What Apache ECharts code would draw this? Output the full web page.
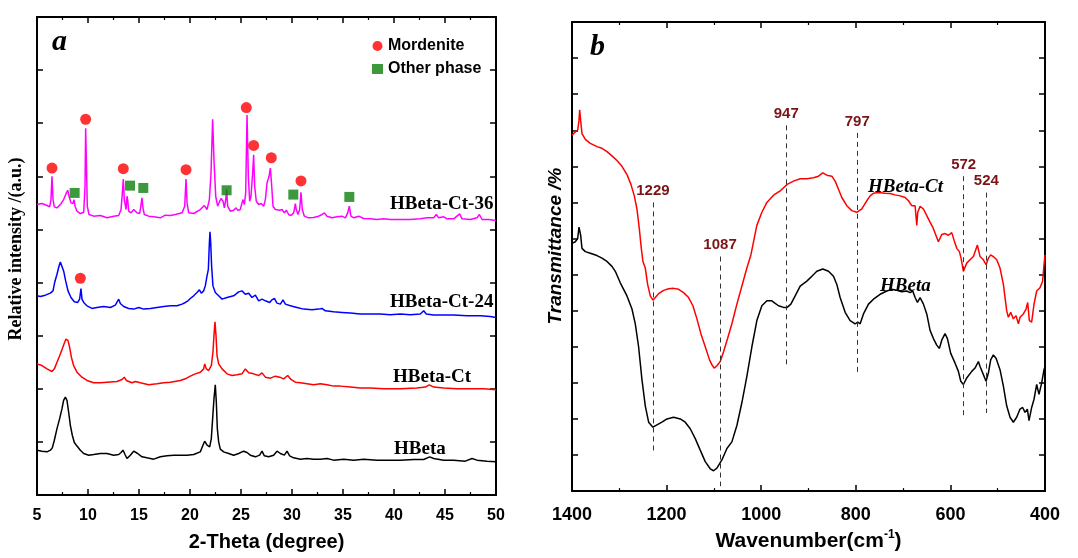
<!DOCTYPE html>
<html>
<head>
<meta charset="utf-8">
<script src="https://cdn.jsdelivr.net/npm/echarts@6/dist/echarts.min.js"></script>
<style>
  html, body { margin: 0; padding: 0; background: #fff; }
  #chart { width: 1078px; height: 558px; }
</style>
</head>
<body>
<div id="chart"></div>
<script>
// ---------- (a) XRD patterns: [2-theta (deg), intensity (a.u., stacked)] ----------
const xrdCt36 = [[5.00,875],[5.49,878],[5.98,872],[6.24,868],[6.37,890],[6.47,960],[6.57,890],[6.70,868],[6.96,865],[7.29,875],[7.61,890],[7.88,910],[8.01,918],[8.14,900],[8.33,880],[8.53,878],[8.63,890],[8.73,870],[8.92,855],[9.25,848],[9.58,852],[9.71,930],[9.77,1105],[9.84,1010],[9.93,870],[10.10,845],[10.56,840],[11.21,842],[11.86,835],[12.52,840],[13.01,842],[13.24,860],[13.37,910],[13.46,952],[13.56,890],[13.73,860],[13.82,900],[13.89,890],[13.99,855],[14.22,850],[14.48,860],[14.61,865],[14.80,850],[15.07,848],[15.20,875],[15.29,895],[15.39,865],[15.52,845],[15.95,840],[16.44,838],[17.09,835],[17.58,843],[18.07,842],[18.56,845],[19.22,850],[19.48,870],[19.61,952],[19.71,880],[19.87,850],[20.36,848],[21.01,860],[21.41,872],[21.67,860],[21.90,890],[22.06,970],[22.22,1132],[22.35,1010],[22.52,900],[22.71,870],[22.91,885],[23.04,893],[23.24,885],[23.37,865],[23.50,890],[23.59,920],[23.69,870],[23.95,855],[24.28,858],[24.51,865],[24.67,858],[24.93,860],[25.10,880],[25.20,890],[25.33,875],[25.46,910],[25.59,1145],[25.72,960],[25.85,885],[25.98,900],[26.14,970],[26.24,1025],[26.34,930],[26.50,885],[26.73,875],[26.99,878],[27.22,870],[27.39,890],[27.55,940],[27.65,950],[27.75,960],[27.88,985],[28.01,930],[28.14,870],[28.37,860],[28.53,865],[28.79,858],[29.02,860],[29.25,850],[29.44,858],[29.67,845],[29.90,842],[30.16,850],[30.26,865],[30.33,878],[30.42,860],[30.59,845],[30.75,860],[30.88,912],[31.01,860],[31.21,840],[31.63,835],[32.12,836],[32.61,840],[32.94,845],[33.17,850],[33.43,840],[33.92,835],[34.41,838],[34.90,840],[35.07,845],[35.23,835],[35.46,850],[35.62,870],[35.78,840],[36.05,835],[36.54,840],[37.03,833],[37.68,832],[38.33,830],[38.99,832],[39.64,830],[40.29,830],[40.46,835],[40.62,830],[41.60,830],[42.58,832],[43.24,835],[43.89,835],[44.15,845],[44.38,835],[44.87,838],[45.20,832],[45.85,832],[46.44,847],[46.67,832],[47.48,830],[48.14,835],[48.37,845],[48.63,830],[49.28,830],[50.00,827]];

const xrdCt24 = [[5.00,600],[5.33,598],[5.82,602],[6.31,608],[6.57,615],[6.73,640],[6.96,665],[7.16,690],[7.29,702],[7.45,698],[7.61,675],[7.81,645],[8.04,615],[8.33,595],[8.66,582],[8.99,580],[9.18,590],[9.31,622],[9.41,590],[9.58,580],[9.90,570],[10.39,562],[10.88,565],[11.54,568],[12.19,565],[12.68,572],[13.01,590],[13.17,577],[13.50,568],[13.99,562],[14.48,560],[14.97,565],[15.46,560],[16.11,562],[16.76,565],[17.42,568],[18.07,570],[18.73,570],[19.22,575],[19.54,580],[19.80,585],[20.03,592],[20.36,600],[20.69,610],[20.92,618],[21.11,608],[21.34,615],[21.50,630],[21.67,660],[21.80,680],[21.90,760],[21.96,793],[22.03,760],[22.12,690],[22.25,630],[22.48,610],[22.81,600],[23.14,590],[23.63,595],[24.28,600],[24.77,612],[25.10,615],[25.42,605],[25.75,608],[26.08,595],[26.41,602],[26.73,585],[27.06,590],[27.39,585],[27.81,580],[28.04,588],[28.27,592],[28.53,578],[28.86,575],[29.12,588],[29.35,575],[29.84,570],[30.49,565],[31.14,560],[31.96,558],[32.61,560],[32.94,562],[33.27,555],[34.08,552],[34.90,550],[35.72,548],[36.70,545],[37.68,545],[38.66,545],[39.64,543],[40.62,545],[41.60,543],[42.58,545],[42.91,555],[43.17,545],[43.89,542],[44.87,542],[45.85,542],[47.16,540],[48.46,540],[49.44,538],[50.00,535]];

const xrdCt = [[5.00,395],[5.49,390],[5.98,380],[6.47,372],[6.70,380],[6.96,400],[7.29,425],[7.61,452],[7.84,470],[8.04,465],[8.20,445],[8.37,415],[8.59,390],[8.92,370],[9.41,355],[9.90,345],[10.56,338],[11.21,338],[11.86,340],[12.84,342],[13.33,348],[13.56,355],[13.76,345],[14.31,338],[14.64,342],[15.13,338],[15.95,332],[16.76,335],[17.42,338],[18.07,340],[19.05,345],[19.54,350],[20.03,358],[20.52,365],[21.01,370],[21.34,380],[21.44,395],[21.60,380],[21.83,375],[22.09,390],[22.25,430],[22.35,480],[22.45,522],[22.55,480],[22.65,420],[22.81,395],[23.14,380],[23.63,365],[24.12,360],[24.61,362],[25.10,365],[25.42,380],[25.75,368],[26.24,365],[26.73,360],[27.06,368],[27.39,355],[27.88,352],[28.37,358],[28.79,355],[29.18,350],[29.58,360],[29.90,348],[30.33,340],[30.82,338],[31.47,335],[32.12,332],[32.78,335],[33.43,332],[34.08,328],[34.74,328],[35.72,325],[36.70,322],[37.68,322],[38.99,320],[40.62,320],[42.25,322],[43.07,325],[43.46,332],[43.89,325],[44.87,322],[46.18,320],[47.48,320],[48.79,320],[50.00,317]];

const xrdBeta = [[5.00,135],[5.49,132],[5.98,130],[6.31,135],[6.50,142],[6.70,165],[6.96,200],[7.22,230],[7.45,260],[7.61,285],[7.78,295],[7.94,285],[8.10,250],[8.27,210],[8.46,180],[8.66,158],[8.86,150],[8.99,145],[9.25,135],[9.58,125],[10.07,120],[10.56,122],[11.21,125],[11.86,125],[12.52,120],[13.01,122],[13.24,128],[13.43,135],[13.63,122],[13.82,110],[14.15,120],[14.48,132],[14.64,135],[14.87,125],[15.29,115],[15.78,112],[16.44,108],[17.09,115],[17.75,118],[18.40,120],[19.05,120],[19.71,120],[20.36,122],[21.01,130],[21.27,150],[21.44,162],[21.67,150],[21.93,145],[22.09,170],[22.22,230],[22.35,290],[22.48,332],[22.58,280],[22.68,200],[22.81,160],[22.97,138],[23.30,130],[23.79,125],[24.28,120],[24.77,125],[25.26,132],[25.59,128],[25.92,120],[26.41,115],[26.83,120],[27.06,132],[27.29,118],[27.71,115],[28.20,120],[28.53,132],[28.86,125],[29.25,120],[29.51,132],[29.77,118],[30.16,112],[30.82,108],[31.47,110],[32.12,108],[32.78,108],[33.43,110],[34.08,105],[35.07,108],[36.05,105],[37.03,108],[38.33,105],[39.64,105],[40.62,105],[41.93,107],[42.91,107],[43.50,115],[43.89,110],[44.87,105],[45.85,105],[46.99,102],[47.65,110],[48.14,105],[49.12,102],[50.00,100]];

// Phase markers placed above the reflections they identify
const mordeniteMarks = [[6.47,985],[9.77,1132],[13.46,983],[19.61,980],[25.52,1167],[26.24,1053],[27.97,1016],[30.88,946],[9.25,653]];
const otherPhaseMarks = [[8.69,910],[14.12,932],[15.42,925],[23.59,918],[30.13,905],[35.62,898]];

const xrdNames = ['HBeta-Ct-36', 'HBeta-Ct-24', 'HBeta-Ct', 'HBeta'];

// ---------- (b) FT-IR spectra: [wavenumber (cm-1), transmittance (offset)] ----------
const irCt = [[1400,1085],[1393.0,1095],[1388.0,1100],[1385.2,1130],[1383.8,1162],[1381.7,1130],[1378.9,1090],[1371.8,1072],[1361.3,1060],[1347.2,1050],[1336.6,1045],[1326.1,1035],[1315.5,1022],[1304.9,1008],[1294.4,990],[1283.8,965],[1275.4,935],[1268.3,900],[1262.7,860],[1257.7,800],[1253.5,740],[1250.0,700],[1245.1,680],[1240.1,630],[1234.5,595],[1228.9,582],[1224.0,590],[1216.9,602],[1206.3,612],[1195.8,617],[1185.2,618],[1174.6,615],[1164.1,605],[1153.5,590],[1144.4,565],[1135.9,525],[1127.5,480],[1118.3,440],[1109.2,400],[1104.2,385],[1099.3,375],[1093.7,382],[1086.6,395],[1079.6,425],[1071.1,465],[1062.0,510],[1051.4,570],[1040.8,625],[1030.3,680],[1021.8,720],[1009.2,810],[998.6,850],[988.0,880],[973.9,902],[959.9,915],[945.1,935],[931.7,945],[917.6,952],[903.5,952],[889.4,955],[878.9,960],[869.7,970],[861.3,963],[850.7,960],[843.7,945],[836.6,920],[829.6,895],[819.0,870],[808.5,855],[797.9,850],[787.3,860],[776.8,885],[769.7,900],[762.7,908],[752.1,910],[738.0,908],[727.5,907],[716.9,903],[706.3,900],[695.8,895],[688.7,885],[681.7,870],[674.6,870],[671.1,810],[669.0,850],[664.1,868],[657.0,860],[650.0,840],[643.0,820],[635.9,800],[625.4,760],[618.3,782],[611.3,785],[604.2,780],[597.2,788],[592.3,765],[586.6,740],[581.0,730],[577.5,710],[572.5,670],[565.5,695],[558.5,705],[551.4,715],[542.9,750],[537.3,715],[530.3,705],[524.6,690],[519.7,710],[514.8,720],[509.2,715],[502.1,705],[495.1,680],[488.0,630],[481.0,550],[477.5,530],[472.5,545],[466.9,525],[461.3,535],[456.3,510],[452.8,530],[445.8,540],[440.1,555],[436.6,575],[433.1,520],[428.2,515],[423.2,570],[417.6,610],[410.6,620],[405.1,640],[402.1,690],[400,720]];

const irBeta = [[1400,755],[1393.0,760],[1388.0,770],[1385.2,805],[1383.8,810],[1381.7,780],[1378.9,740],[1371.8,730],[1361.3,725],[1347.2,718],[1336.6,710],[1326.1,700],[1315.5,685],[1308.5,670],[1297.9,635],[1283.8,595],[1273.2,555],[1266.2,510],[1259.2,440],[1252.1,340],[1245.1,260],[1238.0,210],[1228.9,195],[1220.4,202],[1209.9,210],[1199.3,220],[1185.2,225],[1171.1,220],[1160.6,210],[1150.0,190],[1139.4,160],[1128.9,125],[1118.3,90],[1107.7,68],[1100.7,62],[1093.7,70],[1083.1,95],[1072.5,130],[1062.0,150],[1051.4,200],[1040.8,270],[1030.3,350],[1019.7,440],[1009.2,520],[998.6,565],[988.0,580],[977.5,580],[970.4,572],[963.4,565],[952.8,560],[945.1,560],[937.3,570],[928.2,595],[917.6,625],[903.5,640],[892.9,655],[882.4,670],[869.7,677],[857.7,670],[847.2,655],[840.1,630],[833.1,590],[822.5,545],[812.0,520],[801.4,510],[795.8,515],[790.8,510],[783.8,540],[773.2,570],[762.7,585],[748.6,600],[734.5,610],[723.9,615],[713.4,612],[702.8,608],[692.3,610],[688.7,615],[685.2,605],[679.6,610],[674.6,590],[669.7,575],[664.1,590],[657.0,570],[650.0,540],[643.0,490],[635.9,465],[628.9,445],[623.2,435],[618.3,460],[611.3,480],[606.3,465],[599.3,420],[590.1,390],[583.1,365],[578.1,335],[572.5,325],[565.5,345],[554.9,365],[547.9,375],[540.8,395],[537.3,380],[530.3,355],[524.6,335],[519.7,360],[514.8,400],[509.2,415],[503.5,405],[495.1,370],[488.0,320],[481.0,260],[473.9,225],[466.9,210],[459.9,225],[452.8,250],[447.2,255],[442.3,240],[437.3,250],[433.8,215],[428.2,255],[423.2,280],[417.6,325],[412.7,295],[407.0,330],[402.1,370],[400,380]];

// Band assignments and the vertical extent of each guide line
const bandPositions = [1229, 1087, 947, 797, 572, 524];
const bandLineTop = [880, 715, 1115, 1092, 960, 910];
const bandLineBottom = [120, 15, 380, 360, 230, 238];

const irNames = ['HBeta-Ct', 'HBeta'];

// ---------- chart ----------
const SANS = '"Liberation Sans", Arial, sans-serif';
const SERIF = '"Liberation Serif", "Times New Roman", serif';
const BAND_COLOR = '#7b1416';

const chart = echarts.init(document.getElementById('chart'), null, { renderer: 'canvas' });

function frameAxis(gridIndex, position, range, labelled, extra) {
  return Object.assign({
    type: 'value',
    gridIndex: gridIndex,
    position: position,
    min: range[0],
    max: range[1],
    interval: range[2],
    axisLine: { show: true, onZero: false, lineStyle: { color: '#000', width: 2 } },
    axisTick: { show: true, inside: true, length: 6, lineStyle: { color: '#000', width: 1.5 } },
    axisLabel: labelled
      ? { show: true, color: '#000', fontFamily: SANS, fontWeight: 'bold', fontSize: 16, margin: 13, formatter: v => String(v) }
      : { show: false },
    splitLine: { show: false }
  }, extra || {});
}

const minorX = { minorTick: { show: true, splitNumber: 2, length: 3, lineStyle: { color: '#000', width: 1.2 } } };

const lineSeries = (name, data, color, xi, yi) => ({
  name: name, type: 'line', data: data, xAxisIndex: xi, yAxisIndex: yi,
  showSymbol: false, symbol: 'none', smooth: false, silent: true,
  lineStyle: { color: color, width: 1.5 }, itemStyle: { color: color }
});

const option = {
  animation: false,
  backgroundColor: '#fff',
  grid: [
    { left: 37, top: 17, width: 459, height: 478 },
    { left: 572, top: 22, width: 473, height: 478 }
  ],
  xAxis: [
    frameAxis(0, 'bottom', [5, 50, 5], true, Object.assign({
      name: '2-Theta (degree)', nameLocation: 'middle', nameGap: 37,
      nameTextStyle: { color: '#000', fontFamily: SANS, fontWeight: 'bold', fontSize: 20 }
    }, minorX)),
    frameAxis(0, 'top', [5, 50, 5], false, minorX),
    frameAxis(1, 'bottom', [400, 1400, 200], true, Object.assign({
      inverse: true,
      axisLabel: { show: true, color: '#000', fontFamily: SANS, fontWeight: 'bold', fontSize: 18, margin: 15, formatter: v => String(v) },
      name: 'Wavenumber(cm{s|-1})', nameLocation: 'middle', nameGap: 34,
      nameTextStyle: {
        color: '#000', fontFamily: SANS, fontWeight: 'bold', fontSize: 21, lineHeight: 24,
        rich: { s: { fontFamily: SANS, fontWeight: 'bold', fontSize: 12, verticalAlign: 'top', lineHeight: 24, padding: [0, 0, 10, 0] } }
      }
    }, minorX)),
    frameAxis(1, 'top', [400, 1400, 200], false, Object.assign({ inverse: true }, minorX))
  ],
  yAxis: [
    frameAxis(0, 'left', [0, 1440, 160], false),
    frameAxis(0, 'right', [0, 1440, 160], false),
    frameAxis(1, 'left', [0, 1430, 110], false),
    frameAxis(1, 'right', [0, 1430, 110], false)
  ],
  legend: {
    data: [{ name: 'Mordenite', icon: 'circle' }, { name: 'Other phase', icon: 'rect' }],
    orient: 'vertical', left: 367, top: 33,
    itemWidth: 11, itemHeight: 10, itemGap: 7, selectedMode: false,
    textStyle: { color: '#000', fontFamily: SANS, fontWeight: 'bold', fontSize: 16, lineHeight: 16 }
  },
  series: [
    lineSeries(xrdNames[0], xrdCt36, '#ff00ff', 0, 0),
    lineSeries(xrdNames[1], xrdCt24, '#0000ff', 0, 0),
    lineSeries(xrdNames[2], xrdCt, '#ff0000', 0, 0),
    lineSeries(xrdNames[3], xrdBeta, '#000000', 0, 0),
    {
      name: 'Mordenite', type: 'scatter', data: mordeniteMarks, xAxisIndex: 0, yAxisIndex: 0,
      symbol: 'circle', symbolSize: 11, itemStyle: { color: '#ff0000' }, silent: true, z: 5
    },
    {
      name: 'Other phase', type: 'scatter', data: otherPhaseMarks, xAxisIndex: 0, yAxisIndex: 0,
      symbol: 'rect', symbolSize: 10, itemStyle: { color: '#0b7f0b' }, silent: true, z: 5
    },
    lineSeries(irNames[0], irCt, '#ff0000', 2, 2),
    Object.assign(lineSeries(irNames[1], irBeta, '#000000', 2, 2), {
      markLine: {
        silent: true, symbol: ['none', 'none'], animation: false,
        lineStyle: { type: [5, 4], color: '#333', width: 1 },
        label: {
          show: true, position: 'start', distance: 4, formatter: p => p.name,
          color: BAND_COLOR, fontFamily: SANS, fontWeight: 'bold', fontSize: 15
        },
        emphasis: { disabled: true },
        data: bandPositions.map((w, i) => [
          { coord: [w, bandLineTop[i]], name: String(w) },
          { coord: [w, bandLineBottom[i]] }
        ])
      }
    })
  ],
  graphic: [
    { type: 'text', x: 52, y: 42, style: { text: 'a', font: 'italic bold 30px ' + SERIF, fill: '#000', textVerticalAlign: 'middle' } },
    { type: 'text', x: 590, y: 47, style: { text: 'b', font: 'italic bold 30px ' + SERIF, fill: '#000', textVerticalAlign: 'middle' } },
    { type: 'text', x: 16, y: 249, rotation: Math.PI / 2,
      style: { text: 'Relative intensity /(a.u.)', font: 'bold 18px ' + SERIF, fill: '#000', textAlign: 'center', textVerticalAlign: 'middle' } },
    { type: 'text', x: 556, y: 246, rotation: Math.PI / 2,
      style: { text: 'Transmittance /%', font: 'italic bold 19px ' + SANS, fill: '#000', textAlign: 'center', textVerticalAlign: 'middle' } },
    { type: 'text', x: 390, y: 204, style: { text: xrdNames[0], font: 'bold 19px ' + SERIF, fill: '#000', textVerticalAlign: 'middle' } },
    { type: 'text', x: 390, y: 302, style: { text: xrdNames[1], font: 'bold 19px ' + SERIF, fill: '#000', textVerticalAlign: 'middle' } },
    { type: 'text', x: 393, y: 377, style: { text: xrdNames[2], font: 'bold 19px ' + SERIF, fill: '#000', textVerticalAlign: 'middle' } },
    { type: 'text', x: 394, y: 449, style: { text: xrdNames[3], font: 'bold 19px ' + SERIF, fill: '#000', textVerticalAlign: 'middle' } },
    { type: 'text', x: 868, y: 187, style: { text: irNames[0], font: 'italic bold 19px ' + SERIF, fill: '#000', textVerticalAlign: 'middle' } },
    { type: 'text', x: 880, y: 286, style: { text: irNames[1], font: 'italic bold 19px ' + SERIF, fill: '#000', textVerticalAlign: 'middle' } }
  ]
};

chart.setOption(option);
</script>
</body>
</html>
